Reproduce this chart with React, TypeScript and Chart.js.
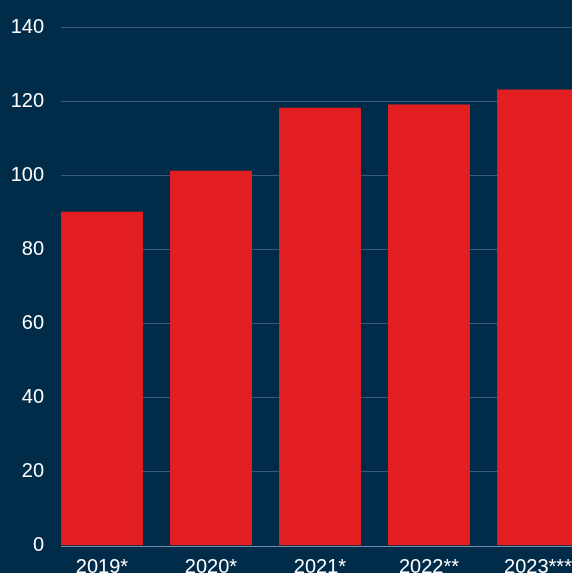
import React, { useEffect, useRef } from "react";
import { Chart, registerables } from "chart.js";
Chart.register(...registerables);

const categories = ["2019*", "2020*", "2021*", "2022**", "2023***"];
const values = [90.1, 101.2, 118.2, 119.1, 123.1];
const yMin = 0;
const yMax = 140;
const yStep = 20;

const BG = "#002b49";
const BAR = "#e21e20";
const GRID = "#3a5a78";
const ZERO = "#6f8aa3";
const TEXT = "#ffffff";
const FONT = "'Liberation Sans', Arial, Helvetica, sans-serif";

const gridPlugin = {
  id: "customGrid",
  beforeDatasetsDraw(chart: any) {
    const { ctx, chartArea, scales } = chart;
    const y = scales.y;
    const bar = chart.getDatasetMeta(0).data[0] as any;
    const startX = bar.x - bar.width / 2;
    ctx.save();
    y.ticks.forEach((t: any) => {
      const py = Math.round(y.getPixelForValue(t.value)) + 0.5;
      ctx.strokeStyle = t.value === 0 ? ZERO : GRID;
      ctx.lineWidth = 1;
      ctx.beginPath();
      ctx.moveTo(startX, py);
      ctx.lineTo(chartArea.right + 40, py);
      ctx.stroke();
    });
    ctx.restore();
  },
};

export default function App() {
  const ref = useRef<HTMLCanvasElement>(null);
  useEffect(() => {
    if (!ref.current) return;
    const chart = new Chart(ref.current, {
      type: "bar",
      data: {
        labels: categories,
        datasets: [
          {
            data: values,
            backgroundColor: BAR,
            borderWidth: 0,
            categoryPercentage: 1,
            barPercentage: 0.752,
          },
        ],
      },
      options: {
        responsive: false,
        maintainAspectRatio: false,
        animation: false,
        layout: { padding: { top: 27, right: 27.5, left: 0, bottom: 0 } },
        plugins: { legend: { display: false }, tooltip: { enabled: false } },
        scales: {
          x: {
            grid: { display: false, drawTicks: false },
            border: { display: false },
            ticks: {
              color: TEXT,
              font: { family: FONT, size: 20 },
              padding: 10,
              autoSkip: false,
              maxRotation: 0,
            },
            afterFit(scale: any) {
              scale.height = 27.5;
            },
          },
          y: {
            min: yMin,
            max: yMax,
            grid: { display: false, drawTicks: false },
            border: { display: false },
            ticks: {
              stepSize: yStep,
              color: TEXT,
              font: { family: FONT, size: 20 },
              padding: 3.5,
            },
            afterFit(scale: any) {
              scale.width = 47.5;
            },
          },
        },
      },
      plugins: [gridPlugin],
    });
    return () => chart.destroy();
  }, []);
  return (
    <div
      style={{
        position: "fixed",
        left: 0,
        top: 0,
        width: 572,
        height: 573,
        overflow: "hidden",
        background: BG,
      }}
    >
      <canvas ref={ref} width={620} height={573} style={{ display: "block", width: 620, height: 573 }} />
    </div>
  );
}
